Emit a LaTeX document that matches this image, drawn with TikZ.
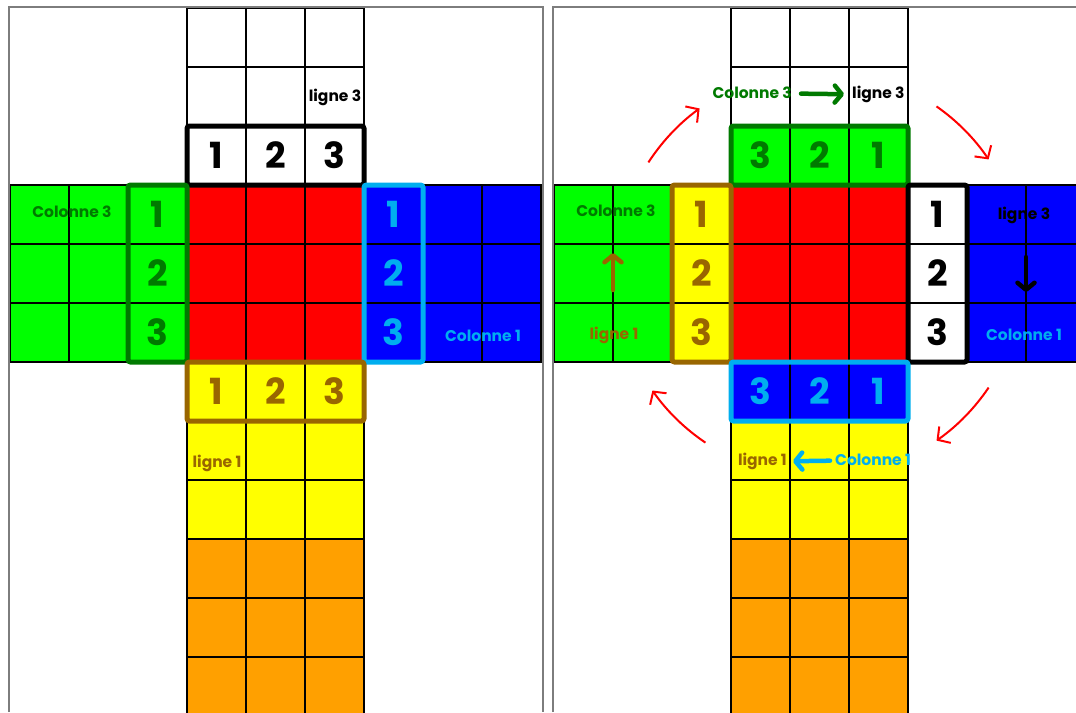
\documentclass[tikz,border=0pt]{standalone}
\usepackage{fontspec}
\setmainfont{Poppins}
\usetikzlibrary{arrows.meta}
\definecolor{cgreen}{RGB}{0,255,0}
\definecolor{cred}{RGB}{255,0,0}
\definecolor{cblue}{RGB}{0,0,255}
\definecolor{cyellow}{RGB}{255,255,0}
\definecolor{corange}{RGB}{255,160,0}
\definecolor{dgreen}{RGB}{0,122,0}
\definecolor{cbrown}{RGB}{153,102,0}
\definecolor{ccyan}{RGB}{0,174,239}
\definecolor{framegray}{RGB}{125,125,125}
\newcommand\cellrow[3]{%
  \foreach \cc [count=\k from 0] in {#3}{\filldraw[cellline,fill=\cc] ({#1+59*\k},#2) rectangle ++(59,59);}}
\begin{document}
\begin{tikzpicture}[x=1pt,y=-1pt,
  cellline/.style={draw=black,line width=1.1pt},
  hbox/.style={line width=5pt,rounded corners=2.5pt},
  digit/.style={font=\fontsize{36}{36}\selectfont\bfseries,inner sep=0pt},
  lab/.style={font=\fontsize{15.5}{15.5}\selectfont\bfseries,inner sep=0pt},
  rarrow/.style={draw=red,line width=2pt,-{Straight Barb[length=9pt,width=20pt]}},
  sarrow/.style={line width=4.5pt,line cap=round,-{Straight Barb[length=7pt,width=17pt,round]}},
  framel/.style={draw=framegray,line width=2pt}]
\useasboundingbox (0,0) rectangle (1076,712);
\clip (0,0) rectangle (1076,712);
\fill[white] (0,0) rectangle (1076,712);

% ---------------- Panel 1 ----------------
\begin{scope}
  \foreach \yy in {8,67,126} {\cellrow{187}{\yy}{white,white,white}}
  \foreach \yy in {185,244,303} {\cellrow{10}{\yy}{cgreen,cgreen,cgreen,cred,cred,cred,cblue,cblue,cblue}}
  \foreach \yy in {362,421,480} {\cellrow{187}{\yy}{cyellow,cyellow,cyellow}}
  \foreach \yy in {539,598,657} {\cellrow{187}{\yy}{corange,corange,corange}}
  \draw[hbox,black] (187,126) rectangle (364,185);
  \draw[hbox,dgreen] (128,185) rectangle (187,362);
  \draw[hbox,ccyan] (364,185) rectangle (423,362);
  \draw[hbox,cbrown] (187,362) rectangle (364,421);
  % digits
  \node[digit,text=black] (a-t1) at (216.5,155.5) {1};
  \node[digit,text=black] (a-t2) at (275.5,155.5) {2};
  \node[digit,text=black] (a-t3) at (334.5,155.5) {3};
  \node[digit,text=dgreen] (a-l1) at (157.5,214.5) {1};
  \node[digit,text=dgreen] (a-l2) at (157.5,273.5) {2};
  \node[digit,text=dgreen] (a-l3) at (157.5,332.5) {3};
  \node[digit,text=ccyan] (a-r1) at (393.5,214.5) {1};
  \node[digit,text=ccyan] (a-r2) at (393.5,273.5) {2};
  \node[digit,text=ccyan] (a-r3) at (393.5,332.5) {3};
  \node[digit,text=cbrown] (a-b1) at (216.5,391.5) {1};
  \node[digit,text=cbrown] (a-b2) at (275.5,391.5) {2};
  \node[digit,text=cbrown] (a-b3) at (334.5,391.5) {3};
  % labels
  \node[lab,text=black,anchor=mid] (a-ligne3) at (335,99) {ligne 3};
  \node[lab,text=dgreen,anchor=mid] (a-col3) at (72,215) {Colonne 3};
  \node[lab,text=ccyan,anchor=mid] (a-col1) at (483,339) {Colonne 1};
  \node[lab,text=cbrown,anchor=mid] (a-ligne1) at (217,465) {ligne 1};
  \draw[framel] (9,712) -- (9,7) -- (543,7) -- (543,712);
\end{scope}

% ---------------- Panel 2 ----------------
\begin{scope}[xshift=544pt]
  \foreach \yy in {8,67} {\cellrow{187}{\yy}{white,white,white}}
  \cellrow{187}{126}{cgreen,cgreen,cgreen}
  \foreach \yy in {185,244,303} {\cellrow{10}{\yy}{cgreen,cgreen,cyellow,cred,cred,cred,white,cblue,cblue}}
  \cellrow{187}{362}{cblue,cblue,cblue}
  \foreach \yy in {421,480} {\cellrow{187}{\yy}{cyellow,cyellow,cyellow}}
  \foreach \yy in {539,598,657} {\cellrow{187}{\yy}{corange,corange,corange}}
  \draw[hbox,dgreen] (187,126) rectangle (364,185);
  \draw[hbox,cbrown] (128,185) rectangle (187,362);
  \draw[hbox,black] (364,185) rectangle (423,362);
  \draw[hbox,ccyan] (187,362) rectangle (364,421);
  % digits
  \node[digit,text=dgreen] (b-t1) at (216.5,155.5) {3};
  \node[digit,text=dgreen] (b-t2) at (275.5,155.5) {2};
  \node[digit,text=dgreen] (b-t3) at (334.5,155.5) {1};
  \node[digit,text=cbrown] (b-l1) at (157.5,214.5) {1};
  \node[digit,text=cbrown] (b-l2) at (157.5,273.5) {2};
  \node[digit,text=cbrown] (b-l3) at (157.5,332.5) {3};
  \node[digit,text=black] (b-r1) at (393.5,214.5) {1};
  \node[digit,text=black] (b-r2) at (393.5,273.5) {2};
  \node[digit,text=black] (b-r3) at (393.5,332.5) {3};
  \node[digit,text=ccyan] (b-b1) at (216.5,391.5) {3};
  \node[digit,text=ccyan] (b-b2) at (275.5,391.5) {2};
  \node[digit,text=ccyan] (b-b3) at (334.5,391.5) {1};
  % labels
  \node[lab,text=dgreen,anchor=mid east] (b-topcol3) at (248,96) {Colonne 3};
  \node[lab,text=black,anchor=mid west] (b-topligne3) at (308,96) {ligne 3};
  \draw[sarrow,dgreen,shorten <=9pt,shorten >=8pt] (b-topcol3) -- (b-topligne3);
  \node[lab,text=cbrown,anchor=mid east] (b-botligne1) at (243,463) {ligne 1};
  \node[lab,text=ccyan,anchor=mid west] (b-botcol1) at (291,463) {Colonne 1};
  \draw[sarrow,ccyan,shorten <=5pt,shorten >=6pt] (b-botcol1) -- (b-botligne1);
  \node[lab,text=dgreen,anchor=mid] (b-lcol3) at (72,214) {Colonne 3};
  \node[lab,text=cbrown,anchor=mid] (b-lligne1) at (70,337) {ligne 1};
  \coordinate (b-up0) at (69,290);
  \coordinate (b-up1) at (69,253);
  \draw[sarrow,cbrown] (b-up0) -- (b-up1);
  \node[lab,text=black,anchor=mid] (b-rligne3) at (480,217) {ligne 3};
  \node[lab,text=ccyan,anchor=mid] (b-rcol1) at (480,338) {Colonne 1};
  \coordinate (b-dn0) at (482,257);
  \coordinate (b-dn1) at (482,292);
  \draw[sarrow,black] (b-dn0) -- (b-dn1);
  % red rotation arrows
  \coordinate (ctr) at (275.5,273.5);
  \draw[rarrow] (ctr) ++(-147:204) arc[start angle=-147,end angle=-126,radius=204];
  \draw[rarrow] (ctr) ++(-55:204) arc[start angle=-55,end angle=-34,radius=204];
  \draw[rarrow] (ctr) ++(34:204) arc[start angle=34,end angle=55,radius=204];
  \draw[rarrow] (ctr) ++(124:204) arc[start angle=124,end angle=145,radius=204];
  \draw[framel] (9,712) -- (9,7) -- (540,7);
\end{scope}
\end{tikzpicture}
\end{document}
